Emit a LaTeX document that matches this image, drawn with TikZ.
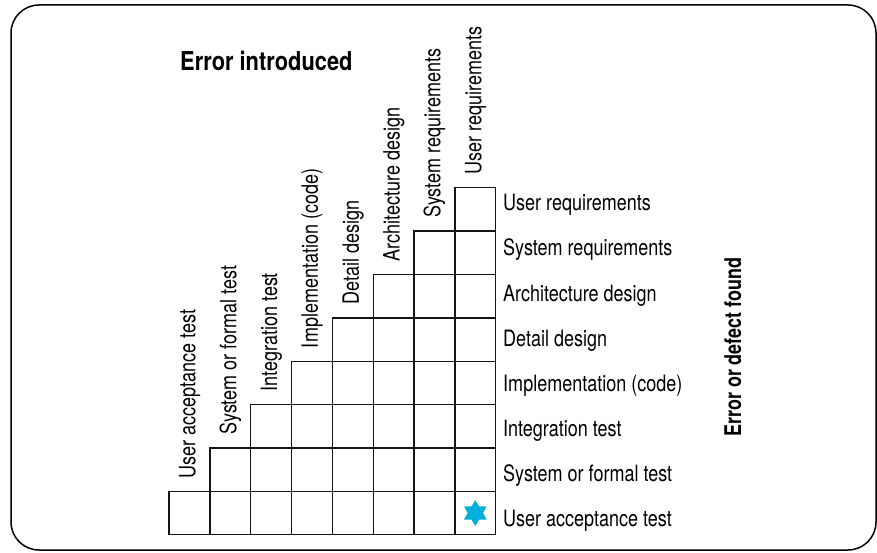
\documentclass[tikz,border=0pt]{standalone}
\usepackage{xcolor}
\usepackage{fontspec}
\setmainfont{TeX Gyre Heros}[FakeStretch=0.8]
\newfontfamily\headfont{TeX Gyre Heros}[FakeStretch=0.84]
\newfontfamily\sidefont{TeX Gyre Heros}[FakeStretch=0.78]
\usetikzlibrary{shapes.geometric}
\definecolor{starcyan}{RGB}{0,176,218}
\definecolor{gridblack}{RGB}{20,20,20}

\tikzset{
  cell/.style={draw=gridblack, line width=1.4pt},
  rowlabel/.style={anchor=base west, inner sep=0pt, font=\fontsize{22.5}{25}\selectfont},
  collabel/.style={rowlabel, rotate=90},
  heading/.style={anchor=base west, inner sep=0pt, font=\headfont\bfseries\fontsize{26}{28}\selectfont}
}

\begin{document}
\begin{tikzpicture}[x=1pt, y=1pt]
\useasboundingbox (0,0) rectangle (877,552);
\draw[line width=1.5pt, rounded corners=28pt] (11,2) rectangle (876,547);
\def\cw{40.84}
\def\rh{43.375}
\begin{scope}[shift={(169,17.3)}]
  % staircase of cells
  \foreach \c in {0,...,7}
    \foreach \r in {0,...,\c}
      \draw[cell] (\c*\cw, \r*\rh) rectangle ++(\cw, \rh);
  % error introduced (columns)
  \foreach \c/\txt in {0/User acceptance test, 1/System or formal test, 2/Integration test,
      3/Implementation (code), 4/Detail design, 5/Architecture design,
      6/System requirements, 7/User requirements}
    \node[collabel] (col\c) at ({\c*\cw+\cw/2+6}, {(\c+1)*\rh+13}) {\txt};
  \node[star, star points=6, star point ratio=1.7, fill=starcyan, inner sep=0pt,
        minimum size=26pt] (hit) at ({7.5*\cw}, {0.5*\rh}) {};
\end{scope}
% error or defect found (rows)
\foreach \i/\txt in {0/User requirements, 1/System requirements, 2/Architecture design,
    3/Detail design, 4/Implementation (code), 5/Integration test,
    6/System or formal test, 7/User acceptance test}
  \node[rowlabel] (row\i) at (503, {552-211-45*\i}) {\txt};
\node[heading] (introduced) at (180,481) {Error introduced};
\node[heading, rotate=90, font=\sidefont\bfseries\fontsize{23}{26}\selectfont] (found) at (741,115) {Error or defect found};
\end{tikzpicture}
\end{document}
